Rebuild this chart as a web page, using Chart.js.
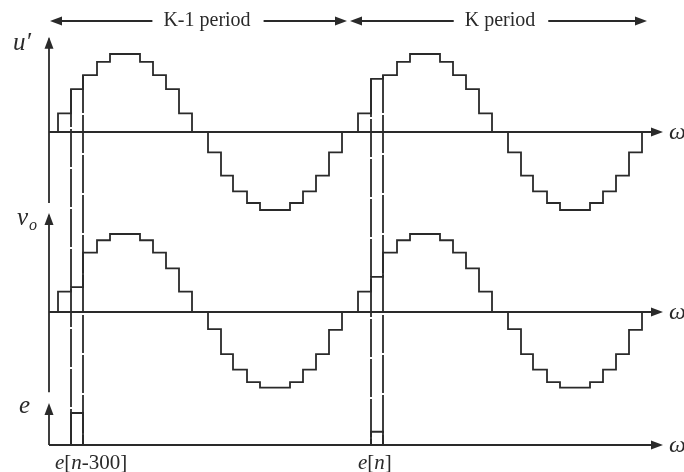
<!DOCTYPE html>
<html>
<head>
<meta charset="utf-8">
<script src="https://cdn.jsdelivr.net/npm/chart.js@4.4.1/dist/chart.umd.min.js"></script>
<style>
  html, body { margin: 0; padding: 0; background: #fff; }
  #wrap { width: 684px; height: 472px; position: relative; }
</style>
</head>
<body>
<div id="wrap"><canvas id="chart"></canvas></div>
<script>
// sample index where each hold step begins, inside one half cycle
var halfEdges = [0, 13, 25, 39, 52, 67, 82, 95, 108, 121, 134];
var periodLen = 300;
var halfLen = 150;
var periodNames = ["K-1 period", "K period"];

// controller output u'  (peak = 1)
var uPrevPos = [0.24, 0.55, 0.73, 0.90, 1.00, 1.00, 0.90, 0.73, 0.55, 0.24];
var uPrevNeg = [-0.26, -0.56, -0.76, -0.91, -1.00, -1.00, -0.91, -0.76, -0.56, -0.26];
var uCurPos = [0.24, 0.68, 0.73, 0.90, 1.00, 1.00, 0.90, 0.73, 0.55, 0.24];
var uCurNeg = [-0.26, -0.56, -0.76, -0.91, -1.00, -1.00, -0.91, -0.76, -0.56, -0.26];

// output voltage vo
var vPrevPos = [0.26, 0.32, 0.76, 0.92, 1.00, 1.00, 0.92, 0.76, 0.56, 0.26];
var vPrevNeg = [-0.22, -0.54, -0.74, -0.90, -0.97, -0.97, -0.90, -0.74, -0.54, -0.23];
var vCurPos = [0.26, 0.45, 0.76, 0.92, 1.00, 1.00, 0.92, 0.76, 0.56, 0.26];
var vCurNeg = [-0.22, -0.54, -0.74, -0.90, -0.97, -0.97, -0.90, -0.74, -0.54, -0.23];

// error samples e[n-300] and e[n]
var errStep = 1;
var errValues = [0.41, 0.17];

// ---- layout (pixels) ----
var W = 684, H = 472, UNIT = 78;
var ORIGIN_PX = 58;             // where sample 0 sits
var BASE_U = 132, BASE_V = 312, BASE_E = 445;
var INK = "#2a2a2a";
var LW = 1.8;

function yRange(base) { return { min: -(H - base) / UNIT, max: base / UNIT }; }

function buildWave(periods) {
  var pts = [{ x: 0, y: 0 }];
  periods.forEach(function (p, pi) {
    [p[0], p[1]].forEach(function (half, hi) {
      var start = pi * periodLen + hi * halfLen;
      half.forEach(function (v, k) { pts.push({ x: start + halfEdges[k], y: v }); });
      pts.push({ x: start + halfEdges[halfEdges.length - 1], y: 0 });
    });
  });
  return pts;
}

function buildErr() {
  var pts = [];
  errValues.forEach(function (v, i) {
    var a = i * periodLen + halfEdges[errStep], b = i * periodLen + halfEdges[errStep + 1];
    pts.push({ x: a, y: 0 }, { x: a, y: v }, { x: b, y: 0 }, { x: b, y: null });
  });
  return pts;
}

var uWave = buildWave([[uPrevPos, uPrevNeg], [uCurPos, uCurNeg]]);
var vWave = buildWave([[vPrevPos, vPrevNeg], [vCurPos, vCurNeg]]);
var uPeriods = [uPrevPos, uCurPos];

function arrowHead(ctx, x, y, dir) {
  ctx.beginPath();
  if (dir === 'r') { ctx.moveTo(x, y); ctx.lineTo(x - 12, y - 4.5); ctx.lineTo(x - 12, y + 4.5); }
  if (dir === 'l') { ctx.moveTo(x, y); ctx.lineTo(x + 12, y - 4.5); ctx.lineTo(x + 12, y + 4.5); }
  if (dir === 'u') { ctx.moveTo(x, y); ctx.lineTo(x - 4.5, y + 12); ctx.lineTo(x + 4.5, y + 12); }
  ctx.closePath();
  ctx.fill();
}

function seg(ctx, x1, y1, x2, y2) {
  ctx.beginPath(); ctx.moveTo(x1, y1); ctx.lineTo(x2, y2); ctx.stroke();
}

function richText(ctx, parts, x, y) {
  var cx = x;
  parts.forEach(function (p) {
    ctx.font = (p[1] ? "italic " : "") + "21px 'Liberation Serif'";
    ctx.fillText(p[0], cx, y);
    cx += ctx.measureText(p[0]).width;
  });
}

var decor = {
  id: "decor",
  beforeDatasetsDraw: function (chart) {
    var ctx = chart.ctx, sx = chart.scales.x;
    var yU = chart.scales.yU, yV = chart.scales.yV, yE = chart.scales.yE;
    ctx.save();
    ctx.strokeStyle = INK; ctx.fillStyle = INK; ctx.lineWidth = LW;

    var x0 = sx.getPixelForValue(-9), xTip = sx.getPixelForValue(605);
    // horizontal axes
    [yU, yV, yE].forEach(function (s) {
      var y = s.getPixelForValue(0);
      seg(ctx, x0, y, xTip - 8, y);
      arrowHead(ctx, xTip, y, 'r');
      ctx.font = "italic 24px 'Liberation Serif'";
      ctx.textBaseline = "middle";
      ctx.fillText("\u03c9", xTip + 6, y + 1);
    });
    // vertical axes
    seg(ctx, x0, yU.getPixelForValue(-0.91), x0, yU.getPixelForValue(1.2));
    arrowHead(ctx, x0, yU.getPixelForValue(1.22), 'u');
    seg(ctx, x0, yV.getPixelForValue(-1.03), x0, yV.getPixelForValue(1.24));
    arrowHead(ctx, x0, yV.getPixelForValue(1.27), 'u');
    seg(ctx, x0, yE.getPixelForValue(0), x0, yE.getPixelForValue(0.5));
    arrowHead(ctx, x0, yE.getPixelForValue(0.54), 'u');

    // dashed sample markers (long dashes, tiny breaks)
    ctx.setLineDash([38, 2]);
    uPeriods.forEach(function (pos, i) {
      [errStep, errStep + 1].forEach(function (k) {
        var x = sx.getPixelForValue(i * periodLen + halfEdges[k]);
        seg(ctx, x, yU.getPixelForValue(pos[k]), x, yE.getPixelForValue(0));
      });
    });
    ctx.setLineDash([]);
    ctx.restore();
  },
  afterDraw: function (chart) {
    var ctx = chart.ctx, sx = chart.scales.x;
    var yU = chart.scales.yU, yV = chart.scales.yV, yE = chart.scales.yE;
    ctx.save();
    ctx.strokeStyle = INK; ctx.fillStyle = INK; ctx.lineWidth = LW;
    ctx.textBaseline = "middle";

    // period arrows
    var centers = [149, 142];
    periodNames.forEach(function (name, i) {
      var a = sx.getPixelForValue(i * periodLen - 8);
      var b = sx.getPixelForValue(i * periodLen + 289);
      var c = sx.getPixelForValue(i * periodLen + centers[i]);
      var y = 21;
      ctx.font = "20px 'Liberation Serif'";
      var w = ctx.measureText(name).width;
      ctx.textAlign = "center";
      ctx.fillText(name, c, y);
      seg(ctx, a + 8, y, c - w / 2 - 11, y);
      arrowHead(ctx, a, y, 'l');
      seg(ctx, c + w / 2 + 13, y, b - 8, y);
      arrowHead(ctx, b, y, 'r');
    });

    // axis names
    ctx.textAlign = "left";
    ctx.font = "italic 25px 'Liberation Serif'";
    ctx.fillText("u\u2032", 13, yU.getPixelForValue(1.13));
    ctx.fillText("v", 17, yV.getPixelForValue(1.2));
    ctx.font = "italic 16px 'Liberation Serif'";
    ctx.fillText("o", 29, yV.getPixelForValue(1.1));
    ctx.font = "italic 25px 'Liberation Serif'";
    ctx.fillText("e", 19, yE.getPixelForValue(0.5));

    // sample labels
    ctx.textBaseline = "alphabetic";
    richText(ctx, [["e", true], ["[", false], ["n", true], ["-300]", false]], 55, 469);
    richText(ctx, [["e", true], ["[", false], ["n", true], ["]", false]], 358, 469);
    ctx.restore();
  }
};

var lineStyle = {
  borderColor: INK, borderWidth: LW, pointRadius: 0, fill: false,
  stepped: true, spanGaps: false, tension: 0
};

new Chart(document.getElementById("chart").getContext("2d"), {
  type: "line",
  data: {
    datasets: [
      Object.assign({ label: "u'", data: uWave, yAxisID: "yU" }, lineStyle),
      Object.assign({ label: "vo", data: vWave, yAxisID: "yV" }, lineStyle),
      Object.assign({ label: "e", data: buildErr(), yAxisID: "yE" }, lineStyle)
    ]
  },
  options: {
    responsive: true,
    maintainAspectRatio: false,
    animation: false,
    layout: { padding: 0 },
    plugins: { legend: { display: false }, tooltip: { enabled: false } },
    scales: {
      x: { type: "linear", display: false, min: -ORIGIN_PX, max: W - ORIGIN_PX },
      yU: Object.assign({ type: "linear", display: false }, yRange(BASE_U)),
      yV: Object.assign({ type: "linear", display: false }, yRange(BASE_V)),
      yE: Object.assign({ type: "linear", display: false }, yRange(BASE_E))
    }
  },
  plugins: [decor]
});
</script>
</body>
</html>
